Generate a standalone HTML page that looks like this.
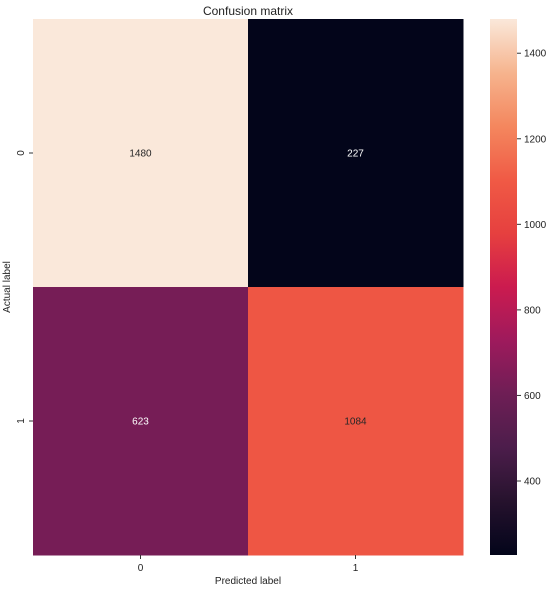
<!DOCTYPE html>
<html><head><meta charset="utf-8"><style>
body{margin:0;background:#fff;}
svg text{font-family:"Liberation Sans","DejaVu Sans",sans-serif;}
</style></head><body>
<svg id="chart" width="553" height="590" xmlns="http://www.w3.org/2000/svg">
<text x="248" y="15" font-size="12" text-anchor="middle" fill="#222">Confusion matrix</text>
<g id="cells"></g>
<g id="axes"></g>
<defs><linearGradient id="cbgrad" x1="0" y1="1" x2="0" y2="0"></linearGradient></defs>
<rect x="490" y="19" width="27" height="536" fill="url(#cbgrad)"/>
<g id="cbticks"></g>
<text x="248" y="584" font-size="10" text-anchor="middle" fill="#222">Predicted label</text>
<text x="10" y="287" font-size="10" text-anchor="middle" fill="#222" transform="rotate(-90 10 287)">Actual label</text>
</svg>
<script>
const xCategories=["0","1"];
const yCategories=["0","1"];
const matrixValues=[[1480,227],[623,1084]];
const colorbarTicks=[400,600,800,1000,1200,1400];
const NS="http://www.w3.org/2000/svg";
const L=33,R=463,T=19,B=555;
const flat=matrixValues.flat();
const vmin=Math.min(...flat),vmax=Math.max(...flat);
const stops=[[0,"#03051A"],[0.1,"#26122D"],[0.2,"#4C1D4B"],[0.3,"#6E1E55"],[0.4,"#9E1A5C"],[0.5,"#CB1B4F"],[0.6,"#E6403F"],[0.7,"#F05A45"],[0.8,"#F4875E"],[0.9,"#F6B48E"],[1,"#FAE8DA"]];
function hex(h){return [1,3,5].map(i=>parseInt(h.substr(i,2),16));}
function cmap(v){let t=(v-vmin)/(vmax-vmin);t=Math.max(0,Math.min(1,t));
 for(let i=1;i<stops.length;i++){if(t<=stops[i][0]){const a=hex(stops[i-1][1]),b=hex(stops[i][1]);const f=(t-stops[i-1][0])/(stops[i][0]-stops[i-1][0]);return "rgb("+a.map((x,k)=>Math.round(x+(b[k]-x)*f)).join(",")+")";}}return stops[stops.length-1][1];}
function lum(v){let t=(v-vmin)/(vmax-vmin);return t>0.55;}
const cw=(R-L)/xCategories.length,ch=(B-T)/yCategories.length;
const xs=i=>L+i*cw, ys=j=>T+j*ch;
const cells=document.getElementById("cells");
matrixValues.forEach((row,j)=>row.forEach((v,i)=>{
 const r=document.createElementNS(NS,"rect");
 r.setAttribute("x",xs(i));r.setAttribute("y",ys(j));r.setAttribute("width",cw+0.5);r.setAttribute("height",ch+0.5);r.setAttribute("fill",cmap(v));
 
 
 cells.appendChild(r);
 const t=document.createElementNS(NS,"text");
 t.setAttribute("x",xs(i)+cw/2);t.setAttribute("y",ys(j)+ch/2+3.5);t.setAttribute("font-size","10");t.setAttribute("text-anchor","middle");
 t.setAttribute("fill",lum(v)?"#262626":"#ffffff");t.textContent=v;
 
 
 cells.appendChild(t);
}));
const ax=document.getElementById("axes");
xCategories.forEach((c,i)=>{
 const x=xs(i)+cw/2;
 const l=document.createElementNS(NS,"line");l.setAttribute("x1",x);l.setAttribute("x2",x);l.setAttribute("y1",B);l.setAttribute("y2",B+4);l.setAttribute("stroke","#333");
 
 
 ax.appendChild(l);
 const t=document.createElementNS(NS,"text");t.setAttribute("x",x);t.setAttribute("y",B+16);t.setAttribute("font-size","10");t.setAttribute("text-anchor","middle");t.setAttribute("fill","#222");t.textContent=c;
 
 
 ax.appendChild(t);
});
yCategories.forEach((c,j)=>{
 const y=ys(j)+ch/2;
 const l=document.createElementNS(NS,"line");l.setAttribute("x1",L-4);l.setAttribute("x2",L);l.setAttribute("y1",y);l.setAttribute("y2",y);l.setAttribute("stroke","#333");
 
 
 ax.appendChild(l);
 const t=document.createElementNS(NS,"text");t.setAttribute("x",24);t.setAttribute("y",y);t.setAttribute("font-size","10");t.setAttribute("text-anchor","middle");t.setAttribute("fill","#222");t.setAttribute("transform","rotate(-90 24 "+y+")");t.textContent=c;
 
 
 ax.appendChild(t);
});
const g=document.getElementById("cbgrad");
for(let k=0;k<=20;k++){const v=vmin+(vmax-vmin)*k/20;const s=document.createElementNS(NS,"stop");s.setAttribute("offset",k/20);s.setAttribute("stop-color",cmap(v));g.appendChild(s);}
const cby=v=>B-(v-vmin)/(vmax-vmin)*(B-T);
const cbt=document.getElementById("cbticks");
colorbarTicks.forEach(v=>{
 const y=cby(v);
 const l=document.createElementNS(NS,"line");l.setAttribute("x1",517);l.setAttribute("x2",521);l.setAttribute("y1",y);l.setAttribute("y2",y);l.setAttribute("stroke","#333");
 
 
 cbt.appendChild(l);
 const t=document.createElementNS(NS,"text");t.setAttribute("x",524);t.setAttribute("y",y+3.5);t.setAttribute("font-size","10");t.setAttribute("fill","#222");t.textContent=v;
 
 
 cbt.appendChild(t);
});
</script>
</body></html>
